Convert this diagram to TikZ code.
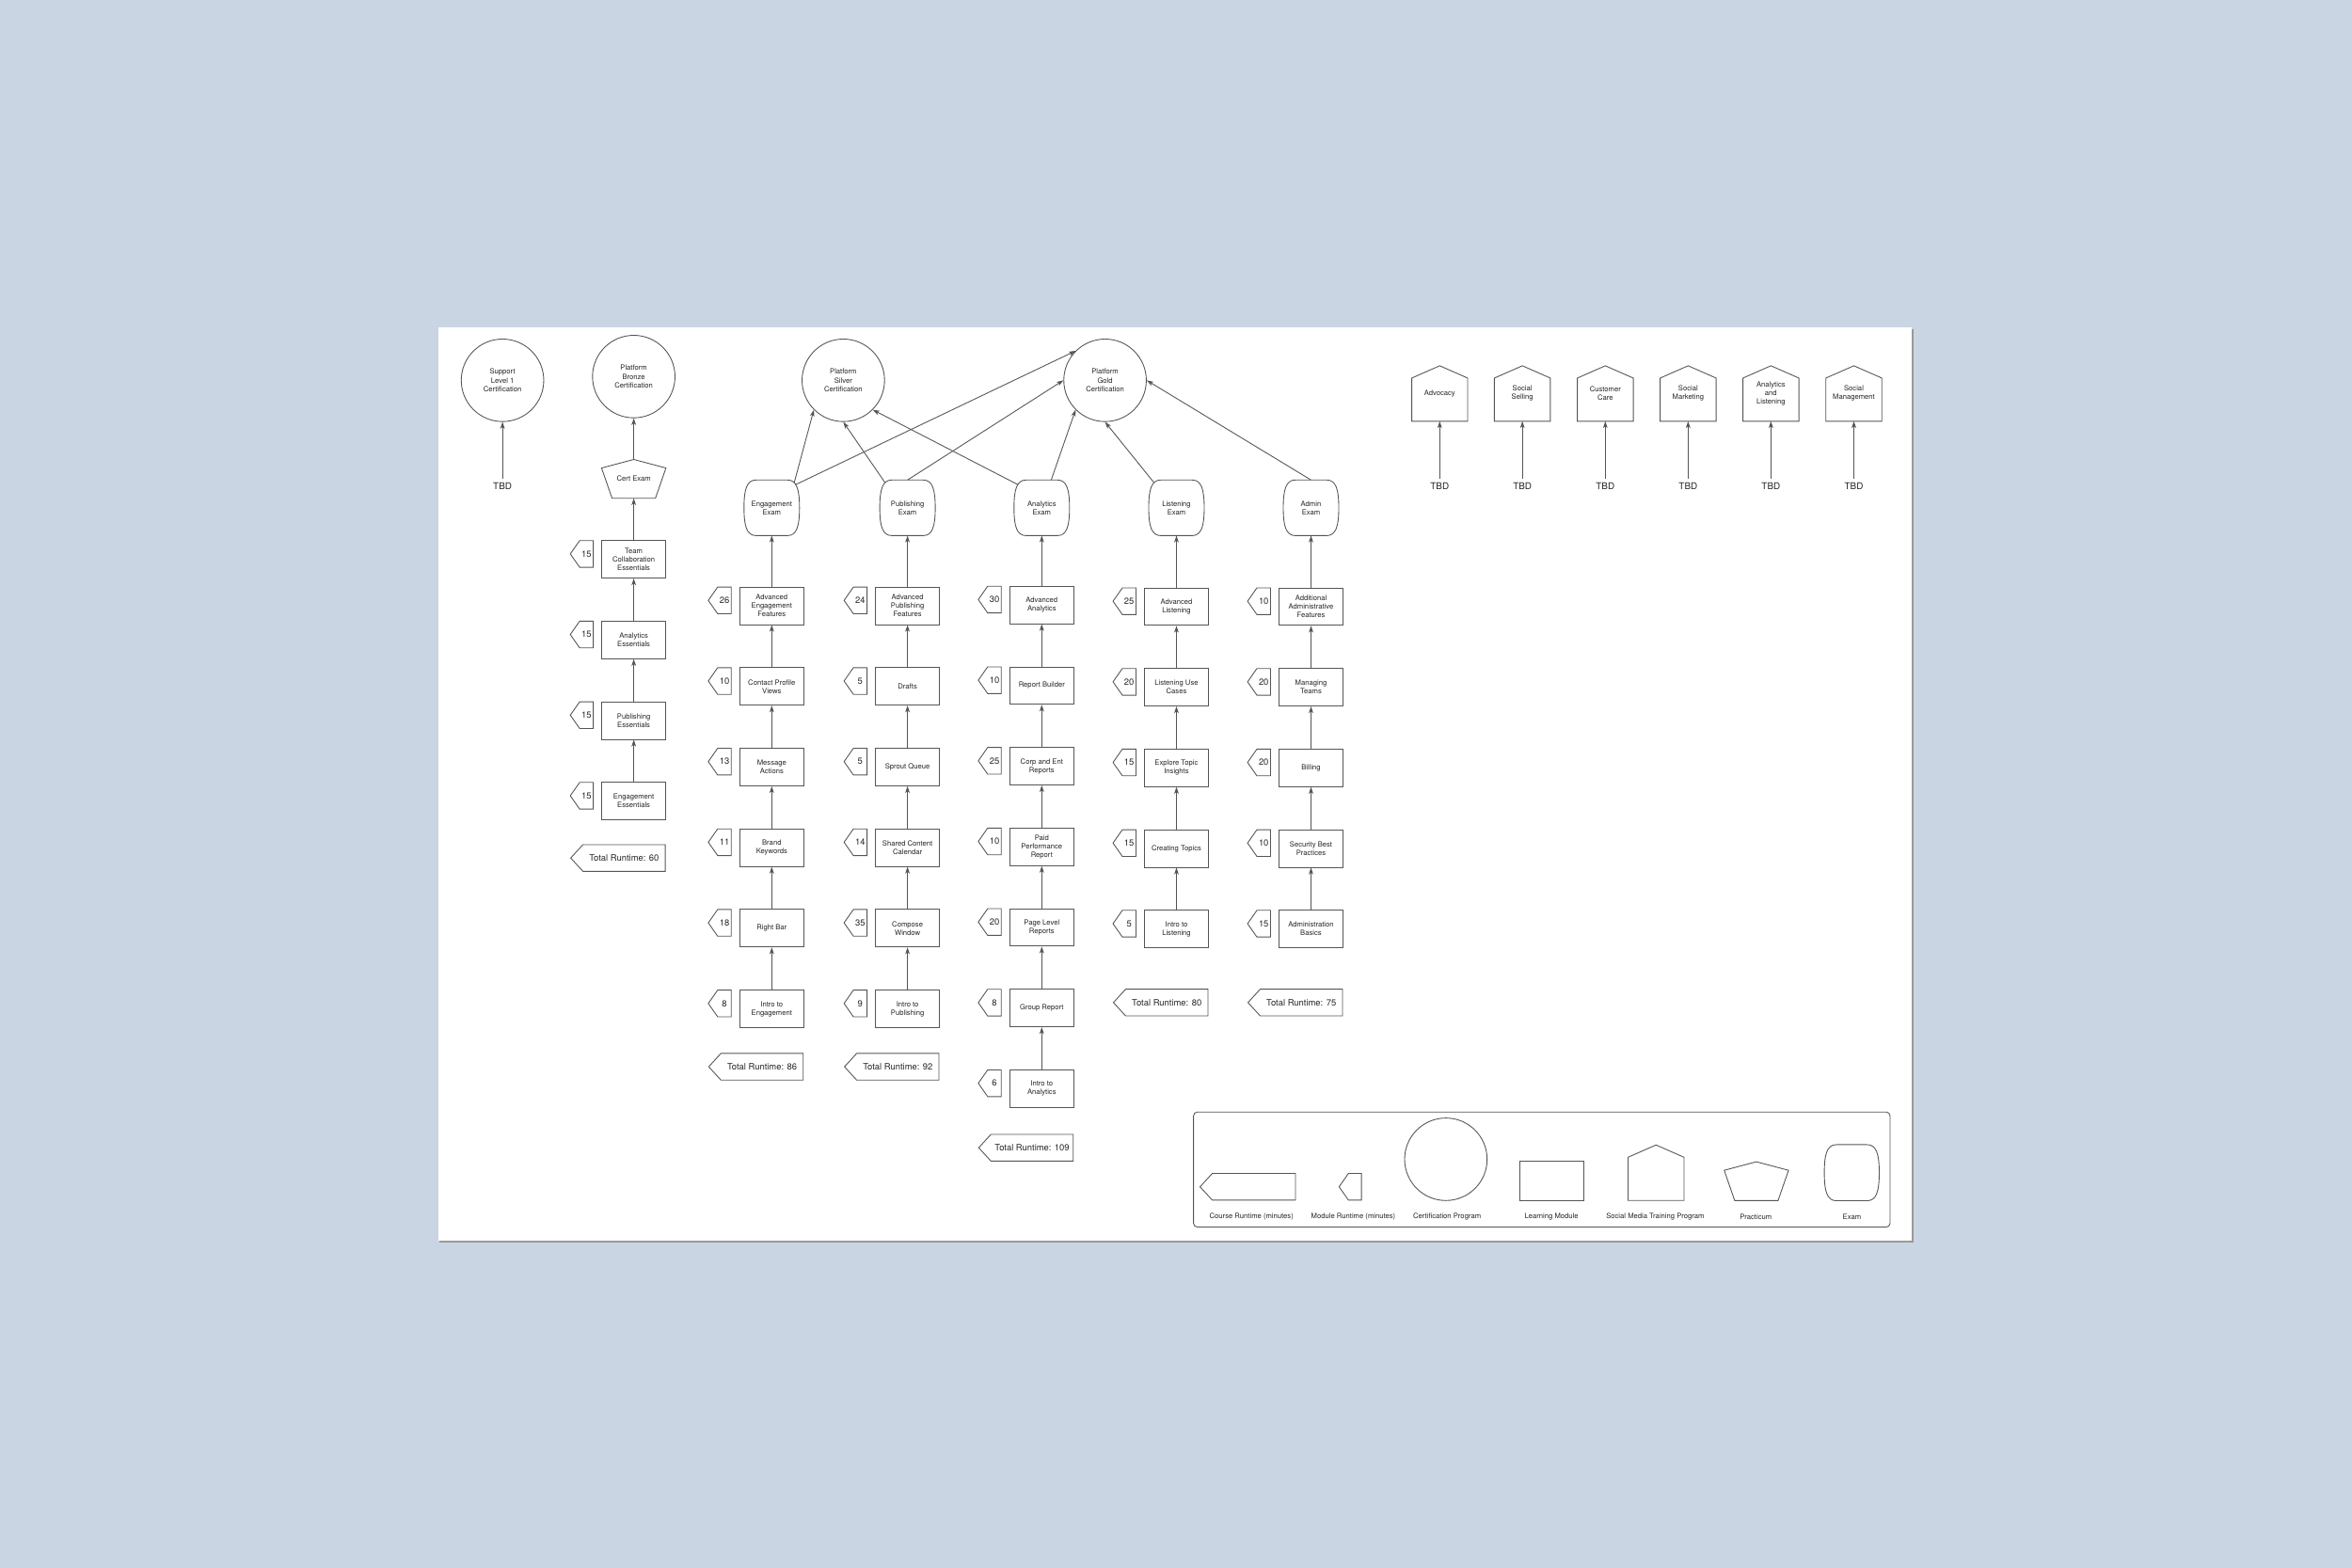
\documentclass[tikz,border=0pt]{standalone}
\usepackage{fontspec}
\setmainfont{TeX Gyre Heros}
\usetikzlibrary{arrows.meta,positioning,shapes.symbols}
\definecolor{backblue}{HTML}{C9D5E3}
\definecolor{linegray}{HTML}{555555}
\tikzset{
  ModuleStyle/.style = {rectangle, draw=linegray, line width=0.55pt, minimum width=42.5pt,
                        minimum height=25pt, inner sep=1pt, align=center, text=black!85,
                        font = \fontsize{4.8}{5.65}\selectfont},
  CertStyle/.style = {circle, draw=linegray, line width=0.55pt, minimum size=55pt,
                      inner sep=0pt, align=center, text=black!85,
                      font = \fontsize{4.8}{5.75}\selectfont},
  ExamStyle/.style = {rectangle, minimum width=36.6pt, minimum height=36.7pt,
                      inner sep=0pt, align=center, text=black!85,
                      font = \fontsize{4.8}{5.65}\selectfont},
  HouseStyle/.style = {rectangle, minimum width=36.9pt, minimum height=36.6pt,
                       inner sep=0pt, align=center, text=black!85,
                       font = \fontsize{4.8}{5.65}\selectfont},
  PracticumStyle/.style = {rectangle, minimum width=42.5pt, minimum height=25.5pt,
                           inner sep=0pt, text=black!85, font = \fontsize{4.8}{5.65}\selectfont},
  OutlineStyle/.style = {draw=linegray, line width=0.55pt},
  TagStyle/.style = {signal, signal to=west, signal pointer angle=110, draw=linegray,
                     line width=0.55pt, minimum width=15.3pt, minimum height=17.8pt,
                     inner xsep=1pt, inner ysep=0pt, text=black!85,
                     font = \fontsize{5.9}{7}\selectfont},
  TotalStyle/.style = {TagStyle, signal pointer angle=95, minimum width=63pt, inner xsep=2pt},
  TbdStyle/.style = {inner sep=2.5pt, text=black!85, font = \fontsize{6.2}{7}\selectfont},
  LegendStyle/.style = {inner sep=1pt, text=black!85, font = \fontsize{4.8}{5.6}\selectfont},
  EdgeStyle/.style = {draw=linegray, line width=0.55pt,
                      -{Stealth[length=4.5pt, width=3pt, inset=1.2pt]}}
}
% outlines drawn round the named nodes
\newcommand\PentaOutline[1]{%
  \draw[OutlineStyle] (#1.north) -- ([yshift=-5.7pt]#1.north east)
    -- ([xshift=-7pt]#1.south east) -- ([xshift=7pt]#1.south west)
    -- ([yshift=-5.7pt]#1.north west) -- cycle;}
\newcommand\HouseOutline[1]{%
  \draw[OutlineStyle] (#1.north) -- ([yshift=-8.2pt]#1.north east)
    -- (#1.south east) -- (#1.south west)
    -- ([yshift=-8.2pt]#1.north west) -- cycle;}
\newcommand\ExamOutline[1]{%
  \draw[OutlineStyle] ([xshift=8.1pt]#1.north west) -- ([xshift=-8.1pt]#1.north east)
    .. controls ([xshift=-1.8pt]#1.north east) and ([yshift=-6.35pt]#1.north east) .. (#1.east)
    .. controls ([yshift=6.35pt]#1.south east) and ([xshift=-1.8pt]#1.south east) .. ([xshift=-8.1pt]#1.south east)
    -- ([xshift=8.1pt]#1.south west)
    .. controls ([xshift=1.8pt]#1.south west) and ([yshift=6.35pt]#1.south west) .. (#1.west)
    .. controls ([yshift=-6.35pt]#1.north west) and ([xshift=1.8pt]#1.north west) .. cycle;}

\begin{document}
\begin{tikzpicture}[x=1pt, y=-1pt, node distance=28.2pt]
  \useasboundingbox (0,0) rectangle (1568,1045.5);
  \fill[backblue] (0,0) rectangle (1568,1045.5);
  \fill[black!40] (293.2,219.6) rectangle (1275.8,828.4);
  \fill[white] (292,218.4) rectangle (1274.6,827);

  % certifications
  \node[CertStyle] (sup) at (335,253.6) {Support\\Level 1\\Certification};
  \node[CertStyle] (silver) at (562.2,253.6) {Platform\\Silver\\Certification};
  \node[CertStyle] (gold) at (736.7,253.6) {Platform\\Gold\\Certification};
  \node[TbdStyle] (tbdsup) at (335,324) {TBD};
  \draw[EdgeStyle] (tbdsup) -- (sup);

  % bronze
  \node[ModuleStyle] (ene) at (422.5,534.2) {Engagement\\Essentials};
  \node[ModuleStyle, above=of ene] (pue) {Publishing\\Essentials};
  \node[ModuleStyle, above=of pue] (ane) {Analytics\\Essentials};
  \node[ModuleStyle, above=of ane] (tce) {Team\\Collaboration\\Essentials};
  \node[PracticumStyle, above=27.9pt of tce] (certx) {Cert Exam};
  \PentaOutline{certx}
  \node[CertStyle, above=27.5pt of certx] (bronze) {Platform\\Bronze\\Certification};
  \node[TagStyle, left=5.2pt of ene.west, yshift=3.6pt] (tene) {15};
  \node[TagStyle, left=5.2pt of pue.west, yshift=3.6pt] (tpue) {15};
  \node[TagStyle, left=5.2pt of ane.west, yshift=3.6pt] (tane) {15};
  \node[TagStyle, left=5.2pt of tce.west, yshift=3.6pt] (ttce) {15};
  \node[TotalStyle, anchor=east] (totbronze) at (443.75,572.1) {Total Runtime: 60};
  \draw[EdgeStyle] (ene) -- (pue);
  \draw[EdgeStyle] (pue) -- (ane);
  \draw[EdgeStyle] (ane) -- (tce);
  \draw[EdgeStyle] (tce) -- (certx);
  \draw[EdgeStyle] (certx) -- (bronze);

  % engagement
  \node[ModuleStyle] (ieng) at (514.5,672.7) {Intro to\\Engagement};
  \node[ModuleStyle, above=of ieng] (rbar) {Right Bar};
  \node[ModuleStyle, above=of rbar] (bkey) {Brand\\Keywords};
  \node[ModuleStyle, above=of bkey] (mact) {Message\\Actions};
  \node[ModuleStyle, above=of mact] (cpv) {Contact Profile\\Views};
  \node[ModuleStyle, above=of cpv] (aef) {Advanced\\Engagement\\Features};
  \node[ExamStyle] (engx) at (514.5,338.6) {Engagement\\Exam};
  \ExamOutline{engx}
  \node[TagStyle, left=5.2pt of ieng.west, yshift=3.6pt] (tieng) {8};
  \node[TagStyle, left=5.2pt of rbar.west, yshift=3.6pt] (trbar) {18};
  \node[TagStyle, left=5.2pt of bkey.west, yshift=3.6pt] (tbkey) {11};
  \node[TagStyle, left=5.2pt of mact.west, yshift=3.6pt] (tmact) {13};
  \node[TagStyle, left=5.2pt of cpv.west, yshift=3.6pt] (tcpv) {10};
  \node[TagStyle, left=5.2pt of aef.west, yshift=3.6pt] (taef) {26};
  \node[TotalStyle, anchor=east] (toteng) at (535.75,711.3) {Total Runtime: 86};
  \draw[EdgeStyle] (ieng) -- (rbar);
  \draw[EdgeStyle] (rbar) -- (bkey);
  \draw[EdgeStyle] (bkey) -- (mact);
  \draw[EdgeStyle] (mact) -- (cpv);
  \draw[EdgeStyle] (cpv) -- (aef);
  \draw[EdgeStyle] (aef) -- (engx);

  % publishing
  \node[ModuleStyle] (ipub) at (605,672.7) {Intro to\\Publishing};
  \node[ModuleStyle, above=of ipub] (cwin) {Compose\\Window};
  \node[ModuleStyle, above=of cwin] (scc) {Shared Content\\Calendar};
  \node[ModuleStyle, above=of scc] (squeue) {Sprout Queue};
  \node[ModuleStyle, above=of squeue] (drafts) {Drafts};
  \node[ModuleStyle, above=of drafts] (apf) {Advanced\\Publishing\\Features};
  \node[ExamStyle] (pubx) at (605,338.6) {Publishing\\Exam};
  \ExamOutline{pubx}
  \node[TagStyle, left=5.2pt of ipub.west, yshift=3.6pt] (tipub) {9};
  \node[TagStyle, left=5.2pt of cwin.west, yshift=3.6pt] (tcwin) {35};
  \node[TagStyle, left=5.2pt of scc.west, yshift=3.6pt] (tscc) {14};
  \node[TagStyle, left=5.2pt of squeue.west, yshift=3.6pt] (tsqueue) {5};
  \node[TagStyle, left=5.2pt of drafts.west, yshift=3.6pt] (tdrafts) {5};
  \node[TagStyle, left=5.2pt of apf.west, yshift=3.6pt] (tapf) {24};
  \node[TotalStyle, anchor=east] (totpub) at (626.25,711.3) {Total Runtime: 92};
  \draw[EdgeStyle] (ipub) -- (cwin);
  \draw[EdgeStyle] (cwin) -- (scc);
  \draw[EdgeStyle] (scc) -- (squeue);
  \draw[EdgeStyle] (squeue) -- (drafts);
  \draw[EdgeStyle] (drafts) -- (apf);
  \draw[EdgeStyle] (apf) -- (pubx);

  % analytics
  \node[ModuleStyle] (iana) at (694.5,725.9) {Intro to\\Analytics};
  \node[ModuleStyle, above=of iana] (grep) {Group Report};
  \node[ModuleStyle, above=of grep] (plr) {Page Level\\Reports};
  \node[ModuleStyle, above=of plr] (ppr) {Paid\\Performance\\Report};
  \node[ModuleStyle, above=of ppr] (cer) {Corp and Ent\\Reports};
  \node[ModuleStyle, above=of cer] (rbuild) {Report Builder};
  \node[ModuleStyle, above=of rbuild] (aana) {Advanced\\Analytics};
  \node[ExamStyle] (anax) at (694.5,338.6) {Analytics\\Exam};
  \ExamOutline{anax}
  \node[TagStyle, left=5.2pt of iana.west, yshift=3.6pt] (tiana) {6};
  \node[TagStyle, left=5.2pt of grep.west, yshift=3.6pt] (tgrep) {8};
  \node[TagStyle, left=5.2pt of plr.west, yshift=3.6pt] (tplr) {20};
  \node[TagStyle, left=5.2pt of ppr.west, yshift=3.6pt] (tppr) {10};
  \node[TagStyle, left=5.2pt of cer.west, yshift=3.6pt] (tcer) {25};
  \node[TagStyle, left=5.2pt of rbuild.west, yshift=3.6pt] (trbuild) {10};
  \node[TagStyle, left=5.2pt of aana.west, yshift=3.6pt] (taana) {30};
  \node[TotalStyle, anchor=east] (totana) at (715.75,765.3) {Total Runtime: 109};
  \draw[EdgeStyle] (iana) -- (grep);
  \draw[EdgeStyle] (grep) -- (plr);
  \draw[EdgeStyle] (plr) -- (ppr);
  \draw[EdgeStyle] (ppr) -- (cer);
  \draw[EdgeStyle] (cer) -- (rbuild);
  \draw[EdgeStyle] (rbuild) -- (aana);
  \draw[EdgeStyle] (aana) -- (anax);

  % listening
  \node[ModuleStyle] (ilis) at (784.3,619.5) {Intro to\\Listening};
  \node[ModuleStyle, above=of ilis] (ctop) {Creating Topics};
  \node[ModuleStyle, above=of ctop] (eti) {Explore Topic\\Insights};
  \node[ModuleStyle, above=of eti] (luc) {Listening Use\\Cases};
  \node[ModuleStyle, above=of luc] (alis) {Advanced\\Listening};
  \node[ExamStyle] (lisx) at (784.3,338.6) {Listening\\Exam};
  \ExamOutline{lisx}
  \node[TagStyle, left=5.2pt of ilis.west, yshift=3.6pt] (tilis) {5};
  \node[TagStyle, left=5.2pt of ctop.west, yshift=3.6pt] (tctop) {15};
  \node[TagStyle, left=5.2pt of eti.west, yshift=3.6pt] (teti) {15};
  \node[TagStyle, left=5.2pt of luc.west, yshift=3.6pt] (tluc) {20};
  \node[TagStyle, left=5.2pt of alis.west, yshift=3.6pt] (talis) {25};
  \node[TotalStyle, anchor=east] (totlis) at (805.55,668.5) {Total Runtime: 80};
  \draw[EdgeStyle] (ilis) -- (ctop);
  \draw[EdgeStyle] (ctop) -- (eti);
  \draw[EdgeStyle] (eti) -- (luc);
  \draw[EdgeStyle] (luc) -- (alis);
  \draw[EdgeStyle] (alis) -- (lisx);

  % admin
  \node[ModuleStyle] (adb) at (874,619.5) {Administration\\Basics};
  \node[ModuleStyle, above=of adb] (sbp) {Security Best\\Practices};
  \node[ModuleStyle, above=of sbp] (bill) {Billing};
  \node[ModuleStyle, above=of bill] (mteam) {Managing\\Teams};
  \node[ModuleStyle, above=of mteam] (aaf) {Additional\\Administrative\\Features};
  \node[ExamStyle] (admx) at (874,338.6) {Admin\\Exam};
  \ExamOutline{admx}
  \node[TagStyle, left=5.2pt of adb.west, yshift=3.6pt] (tadb) {15};
  \node[TagStyle, left=5.2pt of sbp.west, yshift=3.6pt] (tsbp) {10};
  \node[TagStyle, left=5.2pt of bill.west, yshift=3.6pt] (tbill) {20};
  \node[TagStyle, left=5.2pt of mteam.west, yshift=3.6pt] (tmteam) {20};
  \node[TagStyle, left=5.2pt of aaf.west, yshift=3.6pt] (taaf) {10};
  \node[TotalStyle, anchor=east] (totadm) at (895.25,668.5) {Total Runtime: 75};
  \draw[EdgeStyle] (adb) -- (sbp);
  \draw[EdgeStyle] (sbp) -- (bill);
  \draw[EdgeStyle] (bill) -- (mteam);
  \draw[EdgeStyle] (mteam) -- (aaf);
  \draw[EdgeStyle] (aaf) -- (admx);

  % exams to certifications
  \draw[EdgeStyle] ([shift={(15pt,16.8pt)}]engx.center) -- (silver.south west);
  \draw[EdgeStyle] ([shift={(15.8pt,15.4pt)}]engx.center) -- (gold.north west);
  \draw[EdgeStyle] ([shift={(-15pt,16.8pt)}]pubx.center) -- (silver.south);
  \draw[EdgeStyle] (pubx.north) -- (gold.west);
  \draw[EdgeStyle] ([shift={(-15.8pt,15.4pt)}]anax.center) -- (silver.south east);
  \draw[EdgeStyle] ([xshift=6.3pt]anax.north) -- (gold.south west);
  \draw[EdgeStyle] ([shift={(-15pt,16.8pt)}]lisx.center) -- (gold.south);
  \draw[EdgeStyle] (admx.north) -- (gold.east);

  % training programs
  \node[HouseStyle] (adv) at (959.8,262.4) {Advocacy};
  \node[HouseStyle] (sell) at (1014.9,262.4) {Social\\Selling};
  \node[HouseStyle] (care) at (1070.2,262.4) {Customer\\Care};
  \node[HouseStyle] (smkt) at (1125.4,262.4) {Social\\Marketing};
  \node[HouseStyle] (anlis) at (1180.6,262.4) {Analytics\\and\\Listening};
  \node[HouseStyle] (smgmt) at (1235.9,262.4) {Social\\Management};
  \HouseOutline{adv}
  \HouseOutline{sell}
  \HouseOutline{care}
  \HouseOutline{smkt}
  \HouseOutline{anlis}
  \HouseOutline{smgmt}
  \node[TbdStyle] (tbdadv) at (959.8,324) {TBD};
  \node[TbdStyle] (tbdsell) at (1014.9,324) {TBD};
  \node[TbdStyle] (tbdcare) at (1070.2,324) {TBD};
  \node[TbdStyle] (tbdsmkt) at (1125.4,324) {TBD};
  \node[TbdStyle] (tbdanlis) at (1180.6,324) {TBD};
  \node[TbdStyle] (tbdsmgmt) at (1235.9,324) {TBD};
  \draw[EdgeStyle] (tbdadv) -- (adv);
  \draw[EdgeStyle] (tbdsell) -- (sell);
  \draw[EdgeStyle] (tbdcare) -- (care);
  \draw[EdgeStyle] (tbdsmkt) -- (smkt);
  \draw[EdgeStyle] (tbdanlis) -- (anlis);
  \draw[EdgeStyle] (tbdsmgmt) -- (smgmt);

  % legend
  \node[draw=linegray, line width=0.55pt, rounded corners=2.5pt, minimum width=464.3pt,
        minimum height=76.7pt] (legend) at (1027.85,779.85) {};
  \node[TotalStyle, minimum width=63.6pt, anchor=east] (lgcourse) at (863.9,791.35) {};
  \node[TagStyle, minimum width=14.9pt, anchor=east] (lgmodule) at (907.9,791.35) {};
  \node[CertStyle] (lgcert) at (963.9,773) {};
  \node[ModuleStyle, minimum height=25.9pt] (lglearn) at (1034.3,787.45) {};
  \node[HouseStyle] (lghouse) at (1104,781.95) {};
  \HouseOutline{lghouse}
  \node[PracticumStyle] (lgprac) at (1170.9,787.6) {};
  \PentaOutline{lgprac}
  \node[ExamStyle, minimum width=36.2pt, minimum height=37pt] (lgexam) at (1234.5,781.95) {};
  \ExamOutline{lgexam}
  \node[LegendStyle] (lbcourse) at (834.3,811.5) {Course Runtime (minutes)};
  \node[LegendStyle] (lbmodule) at (902.2,811.5) {Module Runtime (minutes)};
  \node[LegendStyle] (lbcert) at (964.7,811.5) {Certification Program};
  \node[LegendStyle] (lblearn) at (1034.3,811.5) {Learning Module};
  \node[LegendStyle] (lbhouse) at (1103.5,811.5) {Social Media Training Program};
  \node[LegendStyle] (lbprac) at (1170.5,811.5) {Practicum};
  \node[LegendStyle] (lbexam) at (1234.6,811.5) {Exam};
\end{tikzpicture}
\end{document}
